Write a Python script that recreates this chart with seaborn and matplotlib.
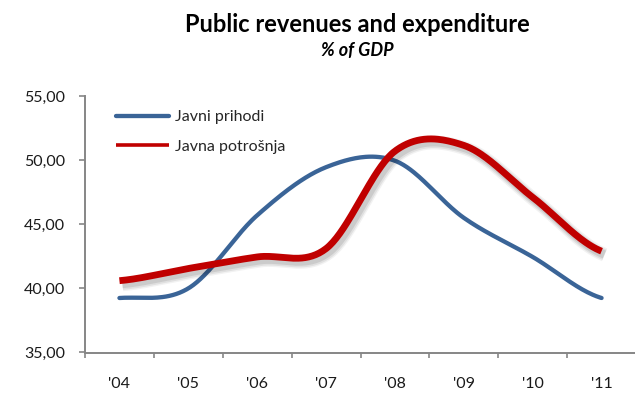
import numpy as np
import pandas as pd
import seaborn as sns
import matplotlib
matplotlib.use("Agg")
import matplotlib.pyplot as plt
import matplotlib.patheffects as pe
from matplotlib.ticker import FixedLocator, FuncFormatter, NullFormatter

# Data (% of GDP)
years = ["'04", "'05", "'06", "'07", "'08", "'09", "'10", "'11"]
revenues = [39.25, 40.0, 45.7, 49.45, 49.95, 45.5, 42.45, 39.25]     # Javni prihodi
expenditure = [40.6, 41.55, 42.45, 43.1, 50.7, 51.15, 47.1, 42.9]    # Javna potrošnja

BLUE = "#3A6497"
RED = "#C00000"
AXIS_GREY = "#868686"


def smooth(values, n=40):
    """Catmull-Rom spline through equally spaced points (spreadsheet-style smoothed line)."""
    p = np.asarray(values, dtype=float)
    ext = np.concatenate([[p[0]], p, [p[-1]]])
    xs, ys = [], []
    for i in range(len(p) - 1):
        p0, p1, p2, p3 = ext[i], ext[i + 1], ext[i + 2], ext[i + 3]
        m1 = (p2 - p0) / 2.0
        m2 = (p3 - p1) / 2.0
        t = np.linspace(0, 1, n, endpoint=(i == len(p) - 2))
        h00 = 2 * t**3 - 3 * t**2 + 1
        h10 = t**3 - 2 * t**2 + t
        h01 = -2 * t**3 + 3 * t**2
        h11 = t**3 - t**2
        xs.append(i + t)
        ys.append(h00 * p1 + h10 * m1 + h01 * p2 + h11 * m2)
    return np.concatenate(xs), np.concatenate(ys)


sns.set_theme(style="white")
plt.rcParams["font.family"] = ["Lato", "DejaVu Sans"]

fig = plt.figure(figsize=(6.35, 3.93), dpi=100)
W, H = 635, 393
ax = fig.add_axes([85 / W, 1 - 352.5 / H, (636 - 85) / W, (352.5 - 96) / H])

xr, yr = smooth(revenues)
xe, ye = smooth(expenditure)
df_r = pd.DataFrame({"x": xr, "y": yr})
df_e = pd.DataFrame({"x": xe, "y": ye})

sns.lineplot(data=df_r, x="x", y="y", ax=ax, color=BLUE, linewidth=3.1,
             label="Javni prihodi", sort=False, solid_capstyle="round")
sns.lineplot(data=df_e, x="x", y="y", ax=ax, color=RED, linewidth=4.9,
             label="Javna potrošnja", sort=False, solid_capstyle="butt")
red_line = ax.get_lines()[-1]
red_line.set_path_effects([
    pe.SimpleLineShadow(offset=(2.2, -2.6), shadow_color="black", alpha=0.05, linewidth=10),
    pe.SimpleLineShadow(offset=(2.2, -2.6), shadow_color="black", alpha=0.07, linewidth=8),
    pe.SimpleLineShadow(offset=(2.0, -2.4), shadow_color="black", alpha=0.09, linewidth=6),
    pe.Normal(),
])

ax.set_xlim(-0.5, 7.5)
ax.set_ylim(35, 55)
ax.set_xlabel("")
ax.set_ylabel("")

# y axis
ax.yaxis.set_major_locator(FixedLocator([35, 40, 45, 50, 55]))
ax.yaxis.set_major_formatter(FuncFormatter(lambda v, _: f"{v:.2f}".replace(".", ",")))
# x axis: ticks between categories, labels at category centres
ax.xaxis.set_major_locator(FixedLocator(np.arange(-0.5, 8.0, 1.0)))
ax.xaxis.set_major_formatter(NullFormatter())
ax.xaxis.set_minor_locator(FixedLocator(np.arange(8)))
ax.set_xticklabels(years, minor=True)

for side in ["top", "right"]:
    ax.spines[side].set_visible(False)
for side in ["left", "bottom"]:
    ax.spines[side].set_color(AXIS_GREY)
    ax.spines[side].set_linewidth(1.4)

ax.tick_params(axis="y", which="major", direction="out", length=4.5, width=1.2,
               color=AXIS_GREY, left=True, labelsize=11.5, labelcolor="#1a1a1a", pad=10)
ax.tick_params(axis="x", which="major", direction="out", length=3.5, width=1.2,
               color=AXIS_GREY, bottom=True)
ax.tick_params(axis="x", which="minor", length=0, bottom=True, labelsize=11.5,
               labelcolor="#1a1a1a", pad=18)

leg = ax.legend(loc="upper left", bbox_to_anchor=(116 / W, 1 - 110 / H),
                bbox_transform=fig.transFigure, frameon=False, fontsize=11.5,
                handlelength=3.3, handletextpad=0.4, labelspacing=0.95,
                borderaxespad=0, borderpad=0)
for h in leg.get_lines():
    h.set_path_effects([])
leg.get_lines()[0].set_linewidth(3.1)
leg.get_lines()[1].set_linewidth(2.6)

fig.text(357 / W, 1 - 24 / H, "Public revenues and expenditure", ha="center", va="center",
         fontsize=17, fontweight="bold", color="black")
fig.text(357 / W, 1 - 50 / H, "% of GDP", ha="center", va="center",
         fontsize=13, fontweight="bold", fontstyle="italic", color="black")

fig.savefig("out.png", dpi=100)
